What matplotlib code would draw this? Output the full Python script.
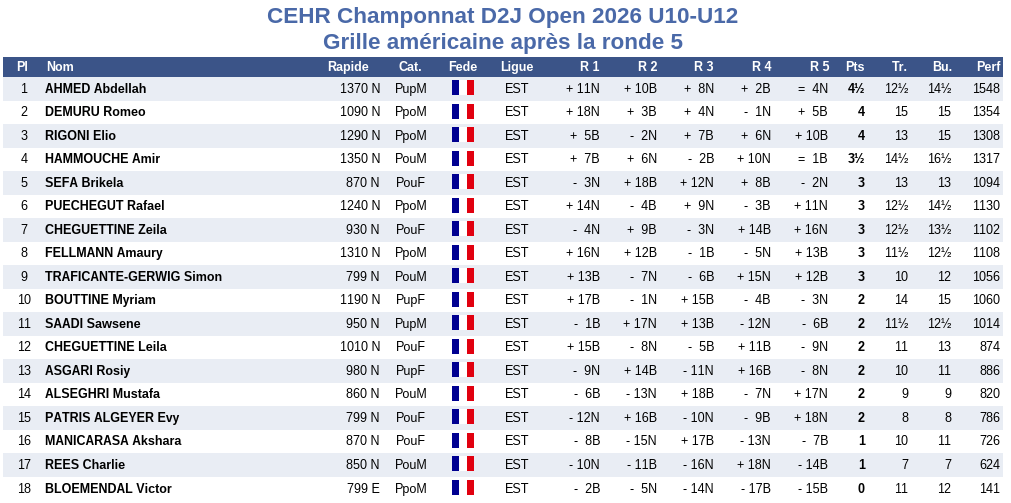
import matplotlib
matplotlib.use('Agg')
import matplotlib.pyplot as plt
from matplotlib.patches import Rectangle

plt.rcParams['font.family'] = ['Liberation Sans', 'DejaVu Sans']
plt.rcParams['text.kerning_factor'] = 6
plt.rcParams['text.hinting'] = 'no_autohint'

# Table content
title_lines = ['CEHR Champonnat D2J Open 2026 U10-U12', 'Grille américaine après la ronde 5']
headers = ['Pl', 'Nom', 'Rapide', 'Cat.', 'Fede', 'Ligue', 'R 1', 'R 2', 'R 3', 'R 4', 'R 5', 'Pts', 'Tr.', 'Bu.', 'Perf']
places = list(range(1, 19))
names = ['AHMED Abdellah', 'DEMURU Romeo', 'RIGONI Elio', 'HAMMOUCHE Amir', 'SEFA Brikela', 'PUECHEGUT Rafael',
         'CHEGUETTINE Zeila', 'FELLMANN Amaury', 'TRAFICANTE-GERWIG Simon', 'BOUTTINE Myriam', 'SAADI Sawsene',
         'CHEGUETTINE Leila', 'ASGARI Rosiy', 'ALSEGHRI Mustafa', 'PATRIS ALGEYER Evy', 'MANICARASA Akshara',
         'REES Charlie', 'BLOEMENDAL Victor']
rapide = ['1370 N', '1090 N', '1290 N', '1350 N', '870 N', '1240 N', '930 N', '1310 N', '799 N', '1190 N', '950 N',
          '1010 N', '980 N', '860 N', '799 N', '870 N', '850 N', '799 E']
cats = ['PupM', 'PpoM', 'PpoM', 'PouM', 'PouF', 'PpoM', 'PouF', 'PpoM', 'PouM', 'PupF', 'PupM', 'PouF', 'PupF',
        'PouM', 'PouF', 'PouF', 'PouM', 'PpoM']
ligue = ['EST'] * 18
r1 = ['+ 11N', '+ 18N', '+  5B', '+  7B', '-  3N', '+ 14N', '-  4N', '+ 16N', '+ 13B', '+ 17B', '-  1B', '+ 15B',
      '-  9N', '-  6B', '- 12N', '-  8B', '- 10N', '-  2B']
r2 = ['+ 10B', '+  3B', '-  2N', '+  6N', '+ 18B', '-  4B', '+  9B', '+ 12B', '-  7N', '-  1N', '+ 17N', '-  8N',
      '+ 14B', '- 13N', '+ 16B', '- 15N', '- 11B', '-  5N']
r3 = ['+  8N', '+  4N', '+  7B', '-  2B', '+ 12N', '+  9N', '-  3N', '-  1B', '-  6B', '+ 15B', '+ 13B', '-  5B',
      '- 11N', '+ 18B', '- 10N', '+ 17B', '- 16N', '- 14N']
r4 = ['+  2B', '-  1N', '+  6N', '+ 10N', '+  8B', '-  3B', '+ 14B', '-  5N', '+ 15N', '-  4B', '- 12N', '+ 11B',
      '+ 16B', '-  7N', '-  9B', '- 13N', '+ 18N', '- 17B']
r5 = ['=  4N', '+  5B', '+ 10B', '=  1B', '-  2N', '+ 11N', '+ 16N', '+ 13B', '+ 12B', '-  3N', '-  6B', '-  9N',
      '-  8N', '+ 17N', '+ 18N', '-  7B', '- 14B', '- 15B']
pts = ['4½', '4', '4', '3½', '3', '3', '3', '3', '3', '2', '2', '2', '2', '2', '2', '1', '1', '0']
tr = ['12½', '15', '13', '14½', '13', '12½', '12½', '11½', '10', '14', '11½', '11', '10', '9', '8', '10', '7', '11']
bu = ['14½', '15', '15', '16½', '13', '14½', '13½', '12½', '12', '15', '12½', '13', '11', '9', '8', '11', '7', '12']
perf = ['1548', '1354', '1308', '1317', '1094', '1130', '1102', '1108', '1056', '1060', '1014', '874', '886', '820',
        '786', '726', '624', '141']

# Colours and layout in pixels
header_col = '#3B5488'
band_col = '#E9EDF4'
title_col = '#4A69A8'
flag_cols = ['#000091', '#FFFFFF', '#E1000F']
font_px = 12.5
title_px = 22.5
px = 72 / 100

fig = plt.figure(figsize=(10.11, 5.03), dpi=100)
ax = fig.add_axes([0, 0, 1, 1])
ax.set_xlim(0, 1011)
ax.set_ylim(503, 0)
ax.axis('off')

# Title
ax.text(503, 23, title_lines[0], ha='center', va='baseline', color=title_col, fontsize=title_px * px, fontweight='bold')
ax.text(503, 49, title_lines[1], ha='center', va='baseline', color=title_col, fontsize=title_px * px, fontweight='bold')

# Header band
left, right = 3, 1003
head_top, head_bot = 57, 77
row_h = 23.53
ax.add_patch(Rectangle((left, head_top), right - left, head_bot - head_top, color=header_col, lw=0))

# column anchors: (x, alignment)
header_pos = [(22, 'center'), (46, 'left'), (369, 'right'), (410, 'center'), (463, 'center'), (517, 'center'),
              (600, 'right'), (657, 'right'), (714, 'right'), (771, 'right'), (829, 'right'),
              (865, 'right'), (908, 'right'), (952, 'right'), (1001, 'right')]
for h, (x, al) in zip(headers, header_pos):
    ax.text(x, 71, h, ha=al, va='baseline', color='white', fontsize=font_px * px, fontweight='bold')

columns = [(places, 24, 'center', 'normal'), (names, 45, 'left', 'bold'), (rapide, 380, 'right', 'normal'),
           (cats, 411, 'center', 'normal'), (ligue, 505, 'left', 'normal'),
           (r1, 600, 'right', 'normal'), (r2, 657, 'right', 'normal'), (r3, 714, 'right', 'normal'),
           (r4, 771, 'right', 'normal'), (r5, 828, 'right', 'normal'), (pts, 865, 'right', 'bold'),
           (tr, 908, 'right', 'normal'), (bu, 951, 'right', 'normal'), (perf, 1000, 'right', 'normal')]

for i in range(len(names)):
    y = head_bot + i * row_h
    if i % 2 == 0:
        ax.add_patch(Rectangle((left, y), right - left, row_h, color=band_col, lw=0))
    # flag
    for k, c in enumerate(flag_cols):
        ax.add_patch(Rectangle((452 + k * 7.4, y + 3), 7.4, 15, color=c, lw=0))
    for vals, x, al, weight in columns:
        ax.text(x, y + 15.5, str(vals[i]), ha=al, va='baseline', color='black',
                fontsize=font_px * px, fontweight=weight)

fig.savefig('out.png', dpi=100)
